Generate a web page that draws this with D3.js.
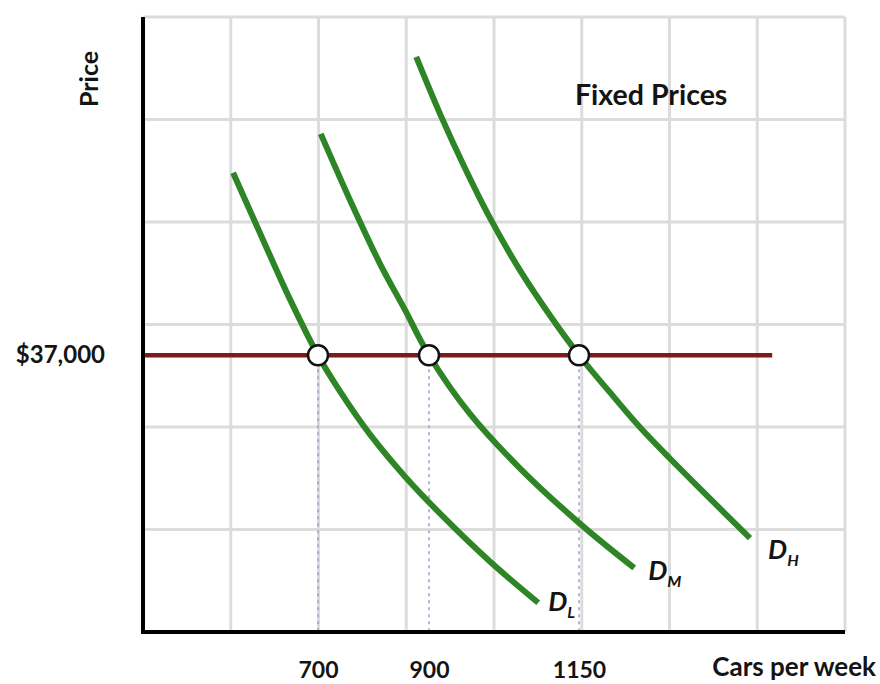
<!DOCTYPE html>
<html>
<head>
<meta charset="utf-8">
<script src="https://cdn.jsdelivr.net/npm/d3@7"></script>
<style>
  body { margin: 0; background: #fff; }
  svg { display: block; }
  text { font-family: Lato, "Open Sans", sans-serif; font-weight: 700; fill: #141414; }
</style>
</head>
<body>
<svg id="chart" width="880" height="684"></svg>
<script>
// Quantities (cars per week) where the fixed price meets each demand curve
const quantityTicks = [700, 900, 1150];
// The fixed price level
const fixedPrice = 37000;
const priceTicks = [37000];
// Extent of the fixed-price line, in cars per week
const priceLineSpan = [385, 1472];
// Demand curves: [cars per week, price]
const demandLow = [[547, 54800], [601, 48250], [650, 42400], [700, 37000], [740, 33450], [794, 29250], [857, 25150], [927, 21050], [1002, 16850], [1082, 12850]];
const demandMid = [[705, 58600], [758, 52100], [812, 45900], [857, 41400], [900, 37000], [968, 31300], [1052, 25950], [1152, 20550], [1242, 16250]];
const demandHigh = [[877, 66100], [918, 60600], [960, 55250], [1002, 50350], [1052, 45250], [1102, 40850], [1150, 37000], [1202, 33350], [1252, 29950], [1302, 26900], [1360, 23500], [1435, 19150]];
const curveLabels = ["L", "M", "H"];

const svg = d3.select("#chart");

// Plot frame
const frame = { left: 143, right: 845, top: 17, bottom: 632 };

// Quantity axis is drawn schematically: piecewise between the labelled quantities
const x = d3.scaleLinear().domain(quantityTicks).range([318, 429, 579]);
const y = d3.scaleLinear().domain([10000, 70000]).range([frame.bottom, frame.top]);
const gridX = d3.scaleLinear().domain([0, 8]).range([frame.left, frame.right]);

// Background grid
const grid = svg.append("g").attr("stroke", "#dcdcdc").attr("stroke-width", 3);
grid.selectAll("line.v").data(d3.range(1, 9)).join("line")
  .attr("class", "v")
  .attr("x1", d => gridX(d)).attr("x2", d => gridX(d))
  .attr("y1", frame.top).attr("y2", frame.bottom);
grid.selectAll("line.h").data(d3.range(20000, 70001, 10000)).join("line")
  .attr("class", "h")
  .attr("x1", frame.left).attr("x2", frame.right)
  .attr("y1", d => y(d)).attr("y2", d => y(d));

// Dotted drop lines from each intersection to the quantity axis
svg.append("g").selectAll("line").data(quantityTicks).join("line")
  .attr("x1", d => x(d)).attr("x2", d => x(d))
  .attr("y1", y(fixedPrice)).attr("y2", frame.bottom)
  .attr("stroke", "#93a3c9").attr("stroke-width", 1.5)
  .attr("stroke-dasharray", "3,4");

// Fixed price line
svg.append("line")
  .attr("x1", x(priceLineSpan[0])).attr("x2", x(priceLineSpan[1]))
  .attr("y1", y(fixedPrice)).attr("y2", y(fixedPrice))
  .attr("stroke", "#7d1b1b").attr("stroke-width", 4.5);

// Demand curves
const line = d3.line().x(d => x(d[0])).y(d => y(d[1])).curve(d3.curveCatmullRom.alpha(0.5));
const curves = [demandLow, demandMid, demandHigh];
svg.append("g").selectAll("path").data(curves).join("path")
  .attr("d", line)
  .attr("fill", "none")
  .attr("stroke", "#2e8526")
  .attr("stroke-width", 6);

// Intersection markers
svg.append("g").selectAll("circle").data(quantityTicks).join("circle")
  .attr("cx", d => x(d)).attr("cy", y(fixedPrice))
  .attr("r", 10)
  .attr("fill", "#fff").attr("stroke", "#111").attr("stroke-width", 2.5);

// Axes lines
svg.append("line").attr("x1", frame.left).attr("x2", frame.left).attr("y1", frame.top).attr("y2", frame.bottom + 2)
  .attr("stroke", "#000").attr("stroke-width", 4);
svg.append("line").attr("x1", frame.left - 2).attr("x2", frame.right).attr("y1", frame.bottom).attr("y2", frame.bottom)
  .attr("stroke", "#000").attr("stroke-width", 4);

// Tick labels
const labelStyle = sel => sel.style("font-family", "Lato, sans-serif").style("font-weight", 700).attr("fill", "#141414");
const xAxis = svg.append("g").attr("transform", `translate(0,${frame.bottom})`)
  .call(d3.axisBottom(x).tickValues(quantityTicks).tickSize(0).tickPadding(30).tickFormat(d3.format("d")));
xAxis.select(".domain").remove();
xAxis.selectAll("text").call(labelStyle).style("font-size", "23px");

const yAxis = svg.append("g").attr("transform", `translate(${frame.left},0)`)
  .call(d3.axisLeft(y).tickValues(priceTicks).tickSize(0).tickPadding(38).tickFormat(d3.format("$,")));
yAxis.select(".domain").remove();
yAxis.selectAll("text").call(labelStyle).style("font-size", "24px");

// Axis titles
svg.append("text").attr("x", 876).attr("y", 676).attr("text-anchor", "end")
  .style("font-size", "26px").text("Cars per week");
svg.append("text").attr("transform", "translate(98,79) rotate(-90)").attr("text-anchor", "middle")
  .style("font-size", "25px").text("Price");

// Title
svg.append("text").attr("x", 575).attr("y", 105).style("font-size", "28.5px").text("Fixed Prices");

// Curve labels D with subscripts, placed just past each curve's lower end
const labelNudge = [[10, 8], [14, 12], [18, 21]];
const ends = curves.map(c => c[c.length - 1]);
const labelG = svg.append("g").selectAll("text").data(ends).join("text")
  .attr("x", (d, i) => x(d[0]) + labelNudge[i][0]).attr("y", (d, i) => y(d[1]) + labelNudge[i][1])
  .style("font-size", "27px").style("font-style", "italic");
labelG.append("tspan").text("D");
labelG.append("tspan").attr("dy", 7).style("font-size", "16px").text((d, i) => curveLabels[i]);
</script>
</body>
</html>
